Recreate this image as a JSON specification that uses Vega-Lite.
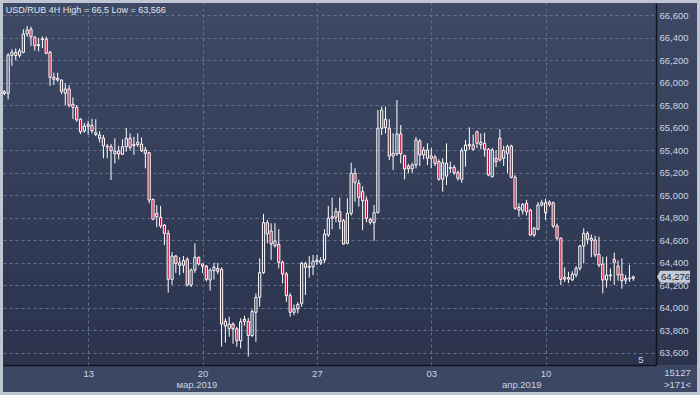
{
"$schema": "https://vega.github.io/schema/vega-lite/v6.json",
"width": 694, "height": 389,
"autosize": {"type": "none"},
"padding": {"left": 3, "top": 3, "right": 3, "bottom": 3},
"background": "#bfc6d2",
"view": {"stroke": null, "fill": {"gradient": "linear", "x1": 0, "y1": 0, "x2": 0, "y2": 1, "stops": [{"offset": 0, "color": "#3d4965"}, {"offset": 0.9306, "color": "#2b334d"}, {"offset": 0.9306, "color": "#3c4764"}, {"offset": 1, "color": "#3c4764"}]}},
"data": {"values": [
{"i":0,"open":65920,"high":65935,"low":65890,"close":65905},
{"i":1,"open":65907,"high":66262,"low":65853,"close":66247},
{"i":2,"open":66244,"high":66298,"low":66152,"close":66271},
{"i":3,"open":66271,"high":66305,"low":66200,"close":66244},
{"i":4,"open":66244,"high":66305,"low":66225,"close":66283},
{"i":5,"open":66271,"high":66476,"low":66262,"close":66434},
{"i":6,"open":66434,"high":66505,"low":66410,"close":66469},
{"i":7,"open":66476,"high":66499,"low":66327,"close":66410},
{"i":8,"open":66404,"high":66416,"low":66285,"close":66330},
{"i":9,"open":66330,"high":66400,"low":66280,"close":66340},
{"i":10,"open":66385,"high":66412,"low":66310,"close":66390},
{"i":11,"open":66388,"high":66410,"low":66253,"close":66262},
{"i":12,"open":66271,"high":66285,"low":65972,"close":66049},
{"i":13,"open":66049,"high":66090,"low":65980,"close":66031},
{"i":14,"open":66025,"high":66090,"low":66010,"close":66040},
{"i":15,"open":66025,"high":66030,"low":65900,"close":65924},
{"i":16,"open":65907,"high":65995,"low":65803,"close":65945},
{"i":17,"open":65945,"high":65980,"low":65782,"close":65800},
{"i":18,"open":65809,"high":65871,"low":65678,"close":65782},
{"i":19,"open":65782,"high":65803,"low":65654,"close":65670},
{"i":20,"open":65676,"high":65685,"low":65545,"close":65565},
{"i":21,"open":65572,"high":65645,"low":65556,"close":65616},
{"i":22,"open":65612,"high":65662,"low":65540,"close":65630},
{"i":23,"open":65622,"high":65680,"low":65550,"close":65574},
{"i":24,"open":65540,"high":65677,"low":65528,"close":65556},
{"i":25,"open":65536,"high":65570,"low":65470,"close":65507},
{"i":26,"open":65509,"high":65536,"low":65329,"close":65440},
{"i":27,"open":65430,"high":65455,"low":65330,"close":65436},
{"i":28,"open":65432,"high":65455,"low":65136,"close":65396},
{"i":29,"open":65370,"high":65507,"low":65284,"close":65394},
{"i":30,"open":65394,"high":65440,"low":65320,"close":65367},
{"i":31,"open":65364,"high":65498,"low":65360,"close":65432},
{"i":32,"open":65432,"high":65596,"low":65388,"close":65507},
{"i":33,"open":65507,"high":65551,"low":65403,"close":65427},
{"i":34,"open":65443,"high":65520,"low":65360,"close":65453},
{"i":35,"open":65450,"high":65551,"low":65430,"close":65471},
{"i":36,"open":65456,"high":65514,"low":65385,"close":65396},
{"i":37,"open":65403,"high":65430,"low":65240,"close":65373},
{"i":38,"open":65379,"high":65385,"low":64929,"close":64958},
{"i":39,"open":64964,"high":64970,"low":64780,"close":64787},
{"i":40,"open":64840,"high":64914,"low":64716,"close":64810},
{"i":41,"open":64804,"high":64905,"low":64707,"close":64727},
{"i":42,"open":64736,"high":64745,"low":64558,"close":64662},
{"i":43,"open":64662,"high":64692,"low":64134,"close":64253},
{"i":44,"open":64253,"high":64496,"low":64203,"close":64460},
{"i":45,"open":64460,"high":64470,"low":64310,"close":64395},
{"i":46,"open":64400,"high":64450,"low":64290,"close":64378},
{"i":47,"open":64378,"high":64460,"low":64310,"close":64420},
{"i":48,"open":64431,"high":64450,"low":64190,"close":64203},
{"i":49,"open":64203,"high":64350,"low":64185,"close":64336},
{"i":50,"open":64336,"high":64573,"low":64310,"close":64449},
{"i":51,"open":64449,"high":64455,"low":64375,"close":64390},
{"i":52,"open":64389,"high":64395,"low":64310,"close":64370},
{"i":53,"open":64371,"high":64380,"low":64235,"close":64253},
{"i":54,"open":64247,"high":64350,"low":64152,"close":64336},
{"i":55,"open":64330,"high":64400,"low":64250,"close":64360},
{"i":56,"open":64350,"high":64400,"low":64300,"close":64325},
{"i":57,"open":64342,"high":64360,"low":63654,"close":63856},
{"i":58,"open":63880,"high":63907,"low":63690,"close":63838},
{"i":59,"open":63814,"high":63921,"low":63743,"close":63856},
{"i":60,"open":63856,"high":63870,"low":63680,"close":63814},
{"i":61,"open":63814,"high":63830,"low":63654,"close":63707},
{"i":62,"open":63707,"high":63907,"low":63640,"close":63876},
{"i":63,"open":63898,"high":63930,"low":63840,"close":63880},
{"i":64,"open":63878,"high":63910,"low":63566,"close":63754},
{"i":65,"open":63754,"high":63985,"low":63740,"close":63966},
{"i":66,"open":63960,"high":64129,"low":63698,"close":64093},
{"i":67,"open":64093,"high":64440,"low":64010,"close":64312},
{"i":68,"open":64312,"high":64834,"low":64300,"close":64757},
{"i":69,"open":64757,"high":64780,"low":64573,"close":64656},
{"i":70,"open":64683,"high":64751,"low":64425,"close":64567},
{"i":71,"open":64552,"high":64751,"low":64535,"close":64594},
{"i":72,"open":64564,"high":64698,"low":64351,"close":64404},
{"i":73,"open":64404,"high":64420,"low":64218,"close":64300},
{"i":74,"open":64300,"high":64320,"low":64054,"close":64108},
{"i":75,"open":64108,"high":64130,"low":63921,"close":63960},
{"i":76,"open":63960,"high":64030,"low":63935,"close":63990},
{"i":77,"open":63990,"high":64050,"low":63950,"close":64030},
{"i":78,"open":64040,"high":64410,"low":64010,"close":64395},
{"i":79,"open":64395,"high":64410,"low":64114,"close":64360},
{"i":80,"open":64360,"high":64460,"low":64268,"close":64370},
{"i":81,"open":64365,"high":64470,"low":64290,"close":64415},
{"i":82,"open":64410,"high":64470,"low":64380,"close":64425},
{"i":83,"open":64400,"high":64450,"low":64380,"close":64420},
{"i":84,"open":64425,"high":64698,"low":64400,"close":64656},
{"i":85,"open":64647,"high":64905,"low":64630,"close":64796},
{"i":86,"open":64810,"high":64980,"low":64698,"close":64795},
{"i":87,"open":64804,"high":64890,"low":64760,"close":64855},
{"i":88,"open":64855,"high":64980,"low":64698,"close":64766},
{"i":89,"open":64775,"high":64790,"low":64560,"close":64567},
{"i":90,"open":64573,"high":64973,"low":64565,"close":64840},
{"i":91,"open":64840,"high":65290,"low":64820,"close":65196},
{"i":92,"open":65196,"high":65240,"low":64943,"close":65112},
{"i":93,"open":65107,"high":65140,"low":64899,"close":64982},
{"i":94,"open":65032,"high":65080,"low":64692,"close":64952},
{"i":95,"open":64958,"high":64990,"low":64760,"close":64796},
{"i":96,"open":64787,"high":64800,"low":64740,"close":64760},
{"i":97,"open":64757,"high":64914,"low":64596,"close":64846},
{"i":98,"open":64846,"high":65758,"low":64840,"close":65596},
{"i":99,"open":65596,"high":65788,"low":65536,"close":65758},
{"i":100,"open":65676,"high":65788,"low":65551,"close":65602},
{"i":101,"open":65596,"high":65676,"low":65314,"close":65349},
{"i":102,"open":65349,"high":65551,"low":65224,"close":65373},
{"i":103,"open":65367,"high":65847,"low":65350,"close":65545},
{"i":104,"open":65545,"high":65625,"low":65284,"close":65367},
{"i":105,"open":65352,"high":65360,"low":65142,"close":65234},
{"i":106,"open":65260,"high":65280,"low":65196,"close":65236},
{"i":107,"open":65236,"high":65290,"low":65200,"close":65270},
{"i":108,"open":65270,"high":65520,"low":65240,"close":65492},
{"i":109,"open":65482,"high":65500,"low":65260,"close":65358},
{"i":110,"open":65358,"high":65430,"low":65320,"close":65403},
{"i":111,"open":65403,"high":65462,"low":65269,"close":65329},
{"i":112,"open":65329,"high":65420,"low":65240,"close":65350},
{"i":113,"open":65338,"high":65360,"low":65260,"close":65284},
{"i":114,"open":65300,"high":65320,"low":65130,"close":65142},
{"i":115,"open":65142,"high":65330,"low":65032,"close":65290},
{"i":116,"open":65171,"high":65462,"low":65092,"close":65284},
{"i":117,"open":65240,"high":65300,"low":65200,"close":65248},
{"i":118,"open":65249,"high":65270,"low":65180,"close":65201},
{"i":119,"open":65201,"high":65220,"low":65130,"close":65151},
{"i":120,"open":65142,"high":65420,"low":65110,"close":65397},
{"i":121,"open":65397,"high":65492,"low":65254,"close":65447},
{"i":122,"open":65440,"high":65604,"low":65403,"close":65453},
{"i":123,"open":65447,"high":65540,"low":65397,"close":65409},
{"i":124,"open":65565,"high":65575,"low":65420,"close":65462},
{"i":125,"open":65450,"high":65550,"low":65410,"close":65470},
{"i":126,"open":65462,"high":65556,"low":65343,"close":65409},
{"i":127,"open":65409,"high":65420,"low":65170,"close":65181},
{"i":128,"open":65165,"high":65420,"low":65160,"close":65403},
{"i":129,"open":65329,"high":65400,"low":65250,"close":65300},
{"i":130,"open":65507,"high":65587,"low":65300,"close":65314},
{"i":131,"open":65329,"high":65440,"low":65260,"close":65397},
{"i":132,"open":65373,"high":65450,"low":65196,"close":65432},
{"i":133,"open":65438,"high":65450,"low":65150,"close":65160},
{"i":134,"open":65160,"high":65180,"low":64870,"close":64884},
{"i":135,"open":64893,"high":64930,"low":64810,"close":64870},
{"i":136,"open":64863,"high":64930,"low":64830,"close":64920},
{"i":137,"open":64929,"high":64960,"low":64820,"close":64854},
{"i":138,"open":64869,"high":64880,"low":64640,"close":64647},
{"i":139,"open":64647,"high":64720,"low":64630,"close":64707},
{"i":140,"open":64698,"high":64940,"low":64690,"close":64914},
{"i":141,"open":64914,"high":64960,"low":64900,"close":64935},
{"i":142,"open":64934,"high":64970,"low":64780,"close":64846},
{"i":143,"open":64920,"high":64955,"low":64900,"close":64940},
{"i":144,"open":64934,"high":64945,"low":64710,"close":64727},
{"i":145,"open":64727,"high":64750,"low":64600,"close":64618},
{"i":146,"open":64618,"high":64625,"low":64203,"close":64253},
{"i":147,"open":64270,"high":64360,"low":64230,"close":64255},
{"i":148,"open":64255,"high":64320,"low":64220,"close":64270},
{"i":149,"open":64247,"high":64325,"low":64240,"close":64300},
{"i":150,"open":64291,"high":64370,"low":64270,"close":64351},
{"i":151,"open":64351,"high":64560,"low":64330,"close":64549},
{"i":152,"open":64549,"high":64707,"low":64395,"close":64662},
{"i":153,"open":64662,"high":64680,"low":64565,"close":64609},
{"i":154,"open":64618,"high":64650,"low":64450,"close":64600},
{"i":155,"open":64603,"high":64640,"low":64450,"close":64469},
{"i":156,"open":64476,"high":64632,"low":64360,"close":64380},
{"i":157,"open":64389,"high":64455,"low":64129,"close":64247},
{"i":158,"open":64247,"high":64455,"low":64180,"close":64291},
{"i":159,"open":64285,"high":64350,"low":64240,"close":64292},
{"i":160,"open":64431,"high":64490,"low":64203,"close":64404},
{"i":161,"open":64371,"high":64420,"low":64240,"close":64291},
{"i":162,"open":64300,"high":64440,"low":64170,"close":64241},
{"i":163,"open":64260,"high":64290,"low":64210,"close":64245},
{"i":164,"open":64258,"high":64382,"low":64230,"close":64264},
{"i":165,"open":64262,"high":64285,"low":64240,"close":64276}
]},
"resolve": {"axis": {"x": "independent", "y": "independent"}},
"layer": [
{"transform": [{"filter": "datum.close < datum.open"}],
 "mark": {"type": "rule", "color": "#ffffff", "strokeWidth": 1},
 "encoding": {
  "x": {"field": "i", "type": "quantitative", "scale": {"domain": [-0.341, 170.96], "range": [0, 653], "padding": 0, "nice": false, "zero": false},
        "axis": {"orient": "top", "values": [22, 52, 82, 112, 142], "title": null, "labels": false, "ticks": false, "domain": false, "grid": true, "gridColor": "#64708c", "gridDash": [3, 3], "gridWidth": 1}},
  "y": {"field": "low", "type": "quantitative", "scale": {"domain": [63491.6, 66709.3], "range": [362, 0], "padding": 0, "nice": false, "zero": false},
        "axis": {"orient": "left", "values": [63600, 63800, 64000, 64200, 64400, 64600, 64800, 65000, 65200, 65400, 65600, 65800, 66000, 66200, 66400, 66600], "title": null, "labels": false, "ticks": false, "domain": false, "grid": true, "gridColor": "#64708c", "gridDash": [3, 3], "gridWidth": 1}},
  "y2": {"field": "high"}
 }},
{"transform": [{"filter": "datum.close >= datum.open"}],
 "mark": {"type": "rule", "color": "#ffffff", "strokeWidth": 1},
 "encoding": {
  "x": {"field": "i", "type": "quantitative",
        "axis": {"orient": "bottom", "offset": -27, "values": [22, 50.4, 52, 82, 112, 135.6, 142], "title": null, "grid": false, "ticks": false, "domain": true, "domainColor": "#11151d", "domainWidth": 1.5, "labelPadding": 3, "labelFont": "Liberation Sans", "labelFontSize": 9.5, "labelColor": "#cdd4e2", "labelBaseline": "top", "labelLineHeight": 11, "labelOverlap": false, "labelFlush": false, "labelBound": false,
                 "labelExpr": "datum.value == 22 ? '13' : datum.value == 52 ? '20' : datum.value == 82 ? '27' : datum.value == 112 ? '03' : datum.value == 142 ? '10' : datum.value < 60 ? ['', 'мар.2019'] : ['', 'апр.2019']"}},
  "y": {"field": "close", "type": "quantitative",
        "axis": {"orient": "right", "offset": -41, "values": [63600, 63800, 64000, 64200, 64400, 64600, 64800, 65000, 65200, 65400, 65600, 65800, 66000, 66200, 66400, 66600], "labelExpr": "format(datum.value, ',')", "title": null, "grid": false, "ticks": false, "domain": true, "domainColor": "#11151d", "domainWidth": 1.5, "labelPadding": 3, "labelFont": "Liberation Sans", "labelFontSize": 9.5, "labelColor": "#cdd4e2", "labelBaseline": "middle", "labelOverlap": false}},
  "y2": {"field": "high"}
 }},
{"transform": [{"filter": "datum.close >= datum.open"}],
 "mark": {"type": "rule", "color": "#ffffff", "strokeWidth": 1},
 "encoding": {
  "x": {"field": "i", "type": "quantitative", "axis": null},
  "y": {"field": "low", "type": "quantitative", "axis": null},
  "y2": {"field": "open"}
 }},
{"mark": {"type": "bar", "width": 2.2, "fill": "#c0143c", "stroke": "#ffffff", "strokeWidth": 1},
 "encoding": {
  "x": {"field": "i", "type": "quantitative", "axis": null},
  "y": {"field": "open", "type": "quantitative", "axis": null},
  "y2": {"field": "close"},
  "fillOpacity": {"condition": {"test": "datum.close < datum.open", "value": 1}, "value": 0}
 }},
{"data": {"values": [{"price": 64276}]},
 "mark": {"type": "point", "shape": "M -1 0 L -0.8 -0.364 L 1 -0.364 L 1 0.364 L -0.8 0.364 Z", "size": 1089, "filled": true, "fill": "#c5cad4", "opacity": 1, "strokeWidth": 0},
 "encoding": {
  "x": {"datum": 175.55, "type": "quantitative", "axis": null},
  "y": {"field": "price", "type": "quantitative", "axis": null}
 }},
{"data": {"values": [{"price": 64276, "label": "64,276"}]},
 "mark": {"type": "text", "font": "Liberation Sans", "fontSize": 9.5, "color": "#1e2230", "align": "center", "baseline": "middle"},
 "encoding": {
  "x": {"datum": 176.1, "type": "quantitative", "axis": null},
  "y": {"field": "price", "type": "quantitative", "axis": null},
  "text": {"field": "label"}
 }},
{"data": {"values": [{"i": 0.37, "price": 66647, "label": "USD/RUB 4H High = 66,5 Low = 63,566"}]},
 "mark": {"type": "text", "font": "Liberation Sans", "fontSize": 9, "color": "#e2e6ee", "align": "left", "baseline": "middle"},
 "encoding": {
  "x": {"field": "i", "type": "quantitative", "axis": null},
  "y": {"field": "price", "type": "quantitative", "axis": null},
  "text": {"field": "label"}
 }},
{"data": {"values": [{"i": 167, "price": 63536, "label": "5"}, {"i": 176.6, "price": 63420, "label": "15127"}, {"i": 176.6, "price": 63318, "label": ">171<"}]},
 "mark": {"type": "text", "font": "Liberation Sans", "fontSize": 9.5, "color": "#cdd4e2", "align": "center", "baseline": "middle"},
 "encoding": {
  "x": {"field": "i", "type": "quantitative", "axis": null},
  "y": {"field": "price", "type": "quantitative", "axis": null},
  "text": {"field": "label"}
 }}
]
}
